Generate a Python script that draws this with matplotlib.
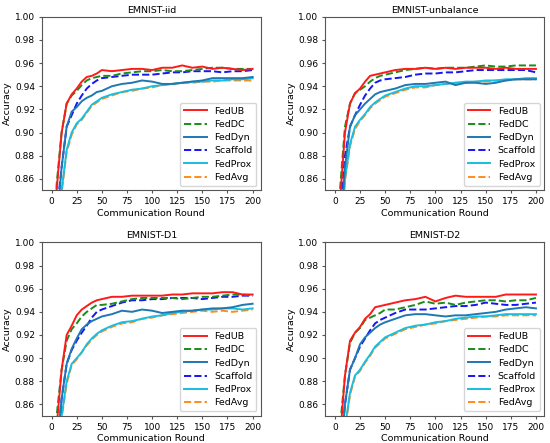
import numpy as np
import matplotlib
matplotlib.use("Agg")
import matplotlib.pyplot as plt

plt.rcParams.update({'font.size': 6.5})
plt.rcParams['axes.edgecolor'] = '#555555'
plt.rcParams['xtick.color'] = '#555555'
plt.rcParams['ytick.color'] = '#555555'
plt.rcParams['xtick.labelcolor'] = 'black'
plt.rcParams['ytick.labelcolor'] = 'black'

rounds = [1, 5, 10, 15, 20, 25, 30, 35, 40, 45, 50, 60, 70, 80, 90, 100,
          110, 120, 130, 140, 150, 160, 170, 180, 190, 200]

methods = ["FedUB", "FedDC", "FedDyn", "Scaffold", "FedProx", "FedAvg"]
colors = ["#ff1a1a", "#1a8c1a", "#1f77b4", "#1515f5", "#17bfe0", "#ff8c1a"]
styles = ["-", "--", "-", "--", "-", "--"]

titles = ["EMNIST-iid", "EMNIST-unbalance", "EMNIST-D1", "EMNIST-D2"]

# ---- EMNIST-iid
iid_fedub = [0.70, 0.850, 0.900, 0.925, 0.933, 0.938, 0.944, 0.948, 0.949, 0.951, 0.954, 0.953, 0.954, 0.955, 0.955, 0.954, 0.956, 0.956, 0.958, 0.956, 0.957, 0.955, 0.956, 0.955, 0.954, 0.955]
iid_feddc = [0.70, 0.855, 0.900, 0.925, 0.932, 0.936, 0.941, 0.945, 0.947, 0.948, 0.949, 0.949, 0.951, 0.952, 0.953, 0.953, 0.954, 0.953, 0.953, 0.954, 0.955, 0.956, 0.956, 0.955, 0.955, 0.955]
iid_feddyn = [0.70, 0.820, 0.870, 0.905, 0.918, 0.922, 0.927, 0.930, 0.932, 0.935, 0.936, 0.940, 0.942, 0.943, 0.945, 0.944, 0.942, 0.942, 0.943, 0.944, 0.945, 0.947, 0.947, 0.947, 0.947, 0.948]
iid_scaffold = [0.70, 0.830, 0.870, 0.905, 0.915, 0.925, 0.932, 0.938, 0.942, 0.945, 0.947, 0.948, 0.949, 0.950, 0.950, 0.950, 0.951, 0.952, 0.952, 0.953, 0.953, 0.953, 0.952, 0.953, 0.953, 0.954]
iid_fedprox = [0.70, 0.800, 0.850, 0.885, 0.900, 0.908, 0.912, 0.918, 0.924, 0.927, 0.930, 0.933, 0.935, 0.937, 0.938, 0.940, 0.941, 0.942, 0.943, 0.944, 0.944, 0.945, 0.945, 0.946, 0.946, 0.947]
iid_fedavg = [0.70, 0.800, 0.848, 0.883, 0.898, 0.907, 0.911, 0.917, 0.923, 0.926, 0.929, 0.932, 0.935, 0.936, 0.938, 0.939, 0.941, 0.942, 0.943, 0.943, 0.944, 0.944, 0.945, 0.945, 0.945, 0.945]

# ---- EMNIST-unbalance
unb_fedub = [0.70, 0.840, 0.900, 0.925, 0.934, 0.938, 0.944, 0.949, 0.950, 0.951, 0.952, 0.954, 0.955, 0.955, 0.956, 0.955, 0.956, 0.955, 0.956, 0.956, 0.956, 0.955, 0.956, 0.955, 0.955, 0.955]
unb_feddc = [0.70, 0.850, 0.905, 0.925, 0.934, 0.937, 0.940, 0.944, 0.947, 0.949, 0.950, 0.952, 0.954, 0.955, 0.956, 0.955, 0.956, 0.956, 0.956, 0.957, 0.958, 0.957, 0.957, 0.958, 0.958, 0.958]
unb_feddyn = [0.70, 0.810, 0.870, 0.905, 0.915, 0.920, 0.925, 0.929, 0.933, 0.935, 0.936, 0.938, 0.941, 0.942, 0.942, 0.943, 0.944, 0.941, 0.943, 0.943, 0.942, 0.943, 0.945, 0.946, 0.946, 0.946]
unb_scaffold = [0.70, 0.830, 0.880, 0.905, 0.915, 0.924, 0.932, 0.938, 0.943, 0.945, 0.946, 0.947, 0.948, 0.950, 0.951, 0.951, 0.952, 0.952, 0.953, 0.954, 0.954, 0.954, 0.954, 0.954, 0.954, 0.952]
unb_fedprox = [0.70, 0.800, 0.860, 0.890, 0.905, 0.911, 0.916, 0.922, 0.926, 0.929, 0.932, 0.935, 0.938, 0.940, 0.940, 0.941, 0.942, 0.943, 0.944, 0.944, 0.945, 0.945, 0.946, 0.946, 0.947, 0.947]
unb_fedavg = [0.70, 0.800, 0.858, 0.888, 0.903, 0.910, 0.915, 0.921, 0.925, 0.928, 0.931, 0.934, 0.937, 0.939, 0.939, 0.941, 0.942, 0.943, 0.943, 0.944, 0.944, 0.945, 0.945, 0.946, 0.946, 0.946]

# ---- EMNIST-D1
d1_fedub = [0.70, 0.840, 0.890, 0.920, 0.928, 0.937, 0.942, 0.945, 0.948, 0.950, 0.951, 0.953, 0.953, 0.954, 0.954, 0.954, 0.954, 0.955, 0.955, 0.956, 0.956, 0.956, 0.957, 0.957, 0.955, 0.955]
d1_feddc = [0.70, 0.850, 0.890, 0.915, 0.925, 0.930, 0.936, 0.940, 0.943, 0.946, 0.946, 0.947, 0.949, 0.951, 0.952, 0.952, 0.952, 0.952, 0.951, 0.952, 0.953, 0.953, 0.954, 0.955, 0.955, 0.954]
d1_feddyn = [0.70, 0.820, 0.865, 0.895, 0.908, 0.917, 0.925, 0.929, 0.932, 0.934, 0.936, 0.938, 0.941, 0.940, 0.942, 0.941, 0.939, 0.940, 0.941, 0.941, 0.942, 0.943, 0.943, 0.944, 0.946, 0.947]
d1_scaffold = [0.70, 0.820, 0.865, 0.895, 0.907, 0.915, 0.922, 0.928, 0.935, 0.940, 0.942, 0.945, 0.948, 0.950, 0.950, 0.951, 0.951, 0.952, 0.952, 0.952, 0.951, 0.952, 0.953, 0.953, 0.954, 0.954]
d1_fedprox = [0.70, 0.800, 0.850, 0.880, 0.895, 0.900, 0.905, 0.912, 0.917, 0.921, 0.924, 0.928, 0.931, 0.932, 0.934, 0.936, 0.937, 0.939, 0.940, 0.941, 0.942, 0.942, 0.943, 0.943, 0.942, 0.943]
d1_fedavg = [0.70, 0.800, 0.848, 0.878, 0.894, 0.899, 0.905, 0.911, 0.916, 0.920, 0.923, 0.927, 0.930, 0.931, 0.934, 0.935, 0.937, 0.938, 0.939, 0.940, 0.941, 0.940, 0.941, 0.940, 0.941, 0.942]

# ---- EMNIST-D2
d2_fedub = [0.70, 0.830, 0.885, 0.915, 0.922, 0.927, 0.934, 0.938, 0.944, 0.945, 0.946, 0.948, 0.950, 0.951, 0.953, 0.949, 0.952, 0.954, 0.953, 0.953, 0.953, 0.953, 0.955, 0.955, 0.955, 0.955]
d2_feddc = [0.70, 0.840, 0.885, 0.913, 0.922, 0.926, 0.933, 0.935, 0.937, 0.939, 0.942, 0.942, 0.944, 0.946, 0.949, 0.947, 0.948, 0.946, 0.948, 0.949, 0.950, 0.950, 0.949, 0.950, 0.950, 0.952]
d2_feddyn = [0.70, 0.810, 0.860, 0.890, 0.900, 0.912, 0.918, 0.922, 0.926, 0.929, 0.931, 0.934, 0.937, 0.938, 0.938, 0.937, 0.936, 0.937, 0.937, 0.938, 0.939, 0.940, 0.942, 0.943, 0.944, 0.943]
d2_scaffold = [0.70, 0.810, 0.860, 0.890, 0.900, 0.910, 0.917, 0.924, 0.930, 0.933, 0.935, 0.939, 0.942, 0.942, 0.942, 0.943, 0.944, 0.945, 0.945, 0.946, 0.948, 0.947, 0.946, 0.946, 0.947, 0.948]
d2_fedprox = [0.70, 0.790, 0.840, 0.870, 0.885, 0.890, 0.897, 0.903, 0.910, 0.914, 0.918, 0.922, 0.926, 0.928, 0.929, 0.931, 0.932, 0.934, 0.935, 0.936, 0.936, 0.937, 0.938, 0.938, 0.938, 0.938]
d2_fedavg = [0.70, 0.790, 0.838, 0.868, 0.884, 0.889, 0.896, 0.902, 0.909, 0.913, 0.917, 0.921, 0.925, 0.927, 0.929, 0.930, 0.932, 0.933, 0.934, 0.935, 0.936, 0.936, 0.937, 0.937, 0.937, 0.937]

panels = [
    [iid_fedub, iid_feddc, iid_feddyn, iid_scaffold, iid_fedprox, iid_fedavg],
    [unb_fedub, unb_feddc, unb_feddyn, unb_scaffold, unb_fedprox, unb_fedavg],
    [d1_fedub, d1_feddc, d1_feddyn, d1_scaffold, d1_fedprox, d1_fedavg],
    [d2_fedub, d2_feddc, d2_feddyn, d2_scaffold, d2_fedprox, d2_fedavg],
]

fig, axes = plt.subplots(2, 2, figsize=(5.5, 4.43), dpi=100)
fig.subplots_adjust(left=0.0755, right=0.99, bottom=0.061, top=0.962, wspace=0.29, hspace=0.30)

for ax, title, series in zip(axes.flat, titles, panels):
    # draw in reverse so FedUB sits on top
    for k in range(len(methods) - 1, -1, -1):
        ax.plot(rounds, series[k], color=colors[k], linestyle=styles[k],
                linewidth=1.4, label=methods[k])
    handles, labels = ax.get_legend_handles_labels()
    ax.legend(handles[::-1], labels[::-1], loc='lower right', fontsize=6.8,
              handlelength=2.4, labelspacing=0.45)
    ax.set_xlim(-10, 208.5)
    ax.set_ylim(0.85, 1.0)
    ax.set_xticks(np.arange(0, 201, 25))
    ax.set_yticks(np.arange(0.86, 1.001, 0.02))
    ax.tick_params(length=2.5, pad=2.2)
    ax.set_title(title, fontsize=6.8, pad=3)
    ax.set_xlabel('Communication Round', fontsize=6.8, labelpad=2)
    ax.set_ylabel('Accuracy', fontsize=6.8, labelpad=2)

plt.savefig("out.png", dpi=100)
